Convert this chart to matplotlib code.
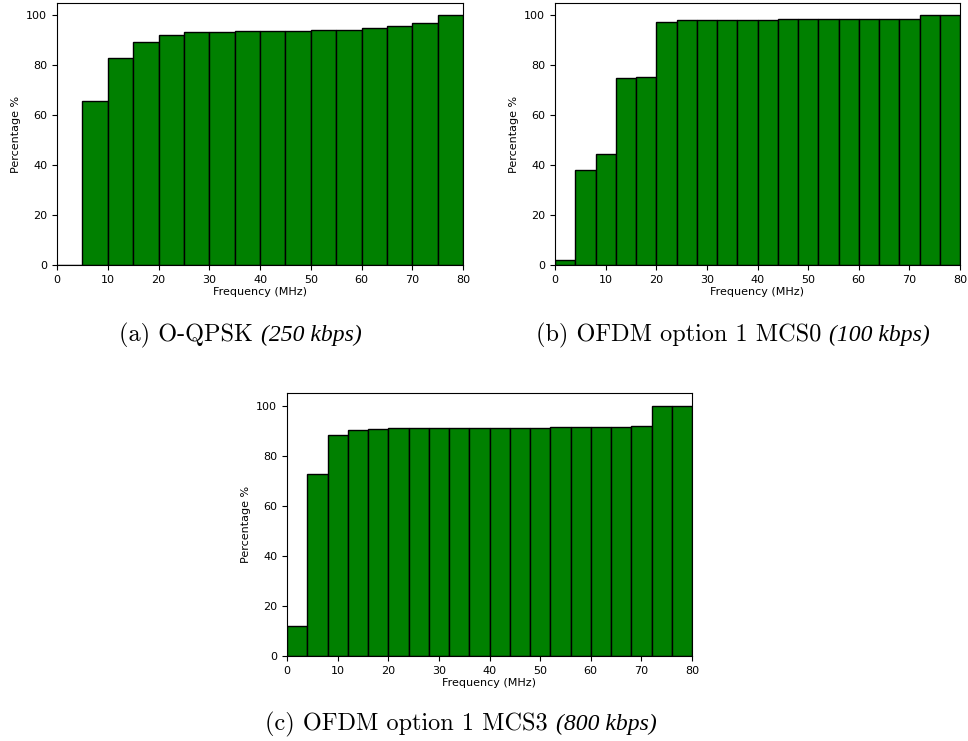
import numpy as np
import matplotlib
matplotlib.use("Agg")
import matplotlib.pyplot as plt

# Data
edges_a = list(range(0, 81, 5))
values_a = [0, 65.8, 82.8, 89.3, 92.1, 93.2, 93.5, 93.7, 93.7, 93.8, 94.1, 94.3, 94.9, 95.6, 96.8, 100]

edges_b = list(range(0, 81, 4))
values_b = [2.0, 37.9, 44.3, 75.1, 75.4, 97.5, 98.3, 98.3, 98.3, 98.3, 98.3, 98.4, 98.4, 98.4, 98.4, 98.4,
            98.4, 98.4, 100, 100]

edges_c = list(range(0, 81, 4))
values_c = [12.1, 72.8, 88.4, 90.4, 90.8, 91.1, 91.2, 91.2, 91.2, 91.2, 91.2, 91.2, 91.2, 91.3, 91.3, 91.5,
            91.5, 91.9, 100, 100]

xticks = [0, 10, 20, 30, 40, 50, 60, 70, 80]
yticks = [0, 20, 40, 60, 80, 100]
xlabel = "Frequency (MHz)"
ylabel = "Percentage %"
captions_rm = ["(a) O-QPSK ", "(b) OFDM option 1 MCS0 ", "(c) OFDM option 1 MCS3 "]
captions_it = ["(250 kbps)", "(100 kbps)", "(800 kbps)"]

W, H = 968, 741
fig = plt.figure(figsize=(W / 100, H / 100), dpi=100)

def add_ax(left, top, right, bottom):
    return fig.add_axes([left / W, 1 - bottom / H, (right - left) / W, (bottom - top) / H])

panels = [
    (add_ax(57, 3, 463, 265), edges_a, values_a),
    (add_ax(555, 3, 960, 265), edges_b, values_b),
    (add_ax(287, 393, 692, 656), edges_c, values_c),
]

for ax, edges, vals in panels:
    ax.hist(edges[:-1], bins=edges, weights=vals, color='green', edgecolor='black', linewidth=1.0)
    ax.set_xlim(0, 80)
    ax.set_ylim(0, 105)
    ax.set_xticks(xticks)
    ax.set_yticks(yticks)
    ax.tick_params(labelsize=8)
    ax.set_xlabel(xlabel, fontsize=8, labelpad=2)
    ax.set_ylabel(ylabel, fontsize=8)

renderer = fig.canvas.get_renderer()
cap_pos = [(240, 335), (733, 335), (461, 724)]
fs = 17.5
for (x, y), rm, it in zip(cap_pos, captions_rm, captions_it):
    t1 = fig.text(0, 1 - y / H, rm, ha='left', va='center', fontsize=fs, family='cmr10')
    t2 = fig.text(0, 1 - y / H, it, ha='left', va='center', fontsize=fs - 0.5,
                  family='Liberation Serif', style='italic', fontweight='light')
    w1 = t1.get_window_extent(renderer).width
    w2 = t2.get_window_extent(renderer).width
    total = w1 + w2
    x0 = x - total / 2
    t1.set_x(x0 / W)
    t2.set_x((x0 + w1) / W)

fig.savefig("out.png", dpi=100)
